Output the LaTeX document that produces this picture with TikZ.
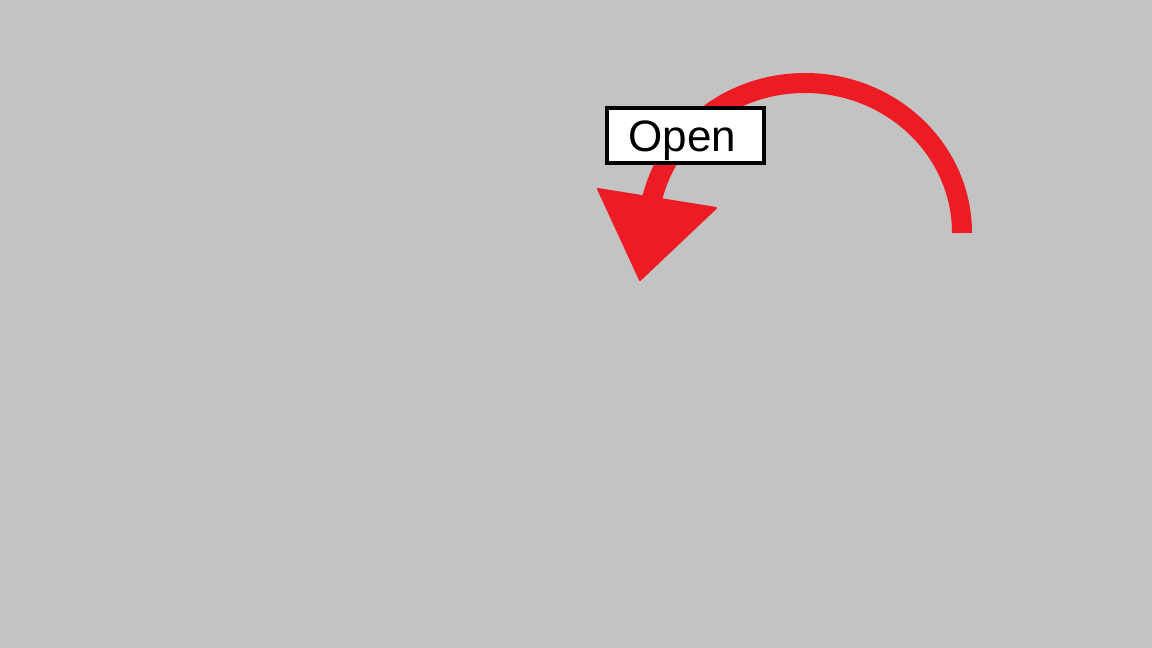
\documentclass[tikz,border=0pt]{standalone}
\usepackage{fontspec}
\setmainfont{Liberation Sans}
\definecolor{bggray}{HTML}{C3C3C3}
\definecolor{paintred}{HTML}{ED1C24}
\tikzset{
  arcline/.style={draw=paintred, line width=20pt},
  arrowhead/.style={fill=paintred, draw=paintred, line width=2pt, line join=round},
  labelbox/.style={draw=black, fill=white, line width=4pt, minimum width=157pt, minimum height=55pt,
    inner sep=0pt, text height=32pt, text depth=0pt, font=\fontsize{44}{50}\selectfont}
}
\begin{document}
\begin{tikzpicture}[x=1pt,y=1pt]
\fill[bggray] (0,0) rectangle (1152,648);
\useasboundingbox (0,0) rectangle (1152,648);
\coordinate (s) at (962,415);
\draw[arcline] (s) arc[start angle=0, end angle=170, x radius=157, y radius=150];
\coordinate (t1) at (598,459);
\coordinate (t2) at (716,440);
\coordinate (t3) at (640,368);
\filldraw[arrowhead] (t1) -- (t2) -- (t3) -- cycle;
\node[labelbox] (open) at (685.5,512.5) {\hspace*{-6pt}Open};
\end{tikzpicture}
\end{document}
